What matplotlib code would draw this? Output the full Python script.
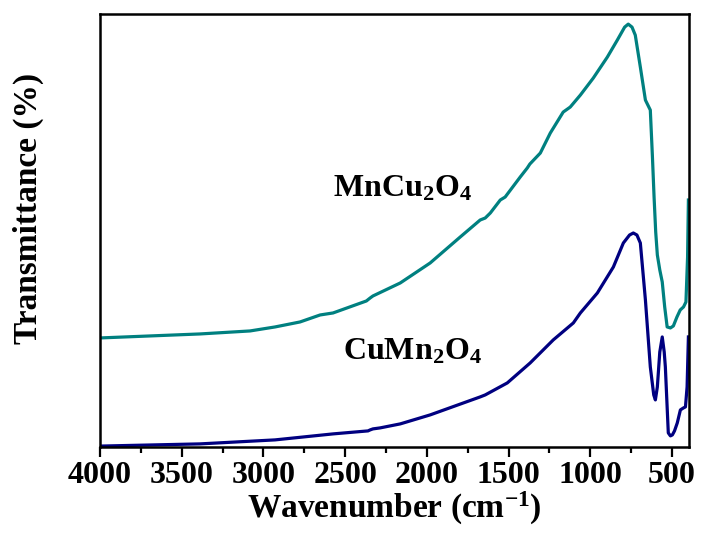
import numpy as np
import matplotlib
matplotlib.use('Agg')
import matplotlib.pyplot as plt
from matplotlib.ticker import MultipleLocator

plt.rcParams['font.family'] = 'Liberation Serif'
plt.rcParams['font.weight'] = 'bold'
plt.rcParams['axes.labelweight'] = 'bold'
plt.rcParams['mathtext.fontset'] = 'custom'
plt.rcParams['mathtext.rm'] = 'Liberation Serif:bold'
plt.rcParams['mathtext.default'] = 'rm'

# MnCu2O4 spectrum (arbitrary units)
wn_mncu = [4000, 3388, 3082, 2929, 2776, 2653, 2574, 2370, 2347, 2330, 2163, 1980, 1796,
           1674, 1643, 1612, 1551, 1521, 1429, 1386, 1370, 1306, 1245, 1166, 1123, 1061,
           982, 896, 835, 790, 768, 745, 725, 694, 663, 633, 620, 610, 600, 590, 575,
           560, 545, 530, 510, 492, 470, 450, 430, 415, 405, 400]
t_mncu = [109, 113, 116, 120, 125, 132, 134, 146, 149, 151, 164, 184, 210,
          227, 229, 234, 247, 250, 270, 279, 283, 294, 314, 335, 340, 352,
          369, 390, 407, 420, 423, 420, 412, 380, 347, 337, 290, 250, 215, 192, 177,
          165, 140, 120, 119, 121, 130, 137, 140, 145, 190, 247]

# CuMn2O4 spectrum
wn_cumn = [4000, 3388, 2929, 2574, 2360, 2347, 2330, 2286, 2163, 1980, 1674, 1643, 1508,
           1368, 1227, 1104, 1061, 957, 859, 798, 760, 737, 715, 694, 663, 633, 612, 602,
           590, 575, 560, 548, 541, 523, 510, 498, 485, 468, 449, 430, 418, 408, 400]
t_cumn = [0.8, 3, 7, 13, 16, 17, 18, 19, 23, 32, 50, 52, 64,
          84, 107, 124, 134, 154, 180, 204, 212, 214, 212, 204, 147, 80, 52, 47,
          60, 95, 110, 95, 80, 14, 11, 12, 16, 24, 37, 39, 40, 60, 110]

fig = plt.figure(figsize=(7.04, 5.43), dpi=100)
ax = fig.add_axes([0.142, 0.177, 0.837, 0.797])

ax.plot(wn_mncu, t_mncu, color='#008080', lw=2.3, solid_joinstyle='round')
ax.plot(wn_cumn, t_cumn, color='#000080', lw=2.3, solid_joinstyle='round')

ax.text(2574, 251, r'MnCu$_2$O$_4$', fontsize=23, ha='left', va='baseline')
ax.text(2512, 87, r'CuMn$_2$O$_4$', fontsize=23, ha='left', va='baseline')

ax.set_xlim(4000, 395)
ax.set_ylim(0, 433)
ax.xaxis.set_major_locator(MultipleLocator(500))
ax.xaxis.set_minor_locator(MultipleLocator(250))
ax.tick_params(axis='x', which='major', direction='out', length=7, width=1.6,
               labelsize=23, pad=3)
ax.tick_params(axis='x', which='minor', direction='out', length=4, width=1.6)
ax.tick_params(axis='y', left=False, labelleft=False)
for s in ax.spines.values():
    s.set_linewidth(1.8)

ax.set_xlabel(r'Wavenumber (cm$^{-1}$)', fontsize=24, labelpad=0)
ax.set_ylabel('Transmittance (%)', fontsize=24)
ax.yaxis.set_label_coords(-0.095, 0.55)

fig.savefig('out.png', dpi=100)
